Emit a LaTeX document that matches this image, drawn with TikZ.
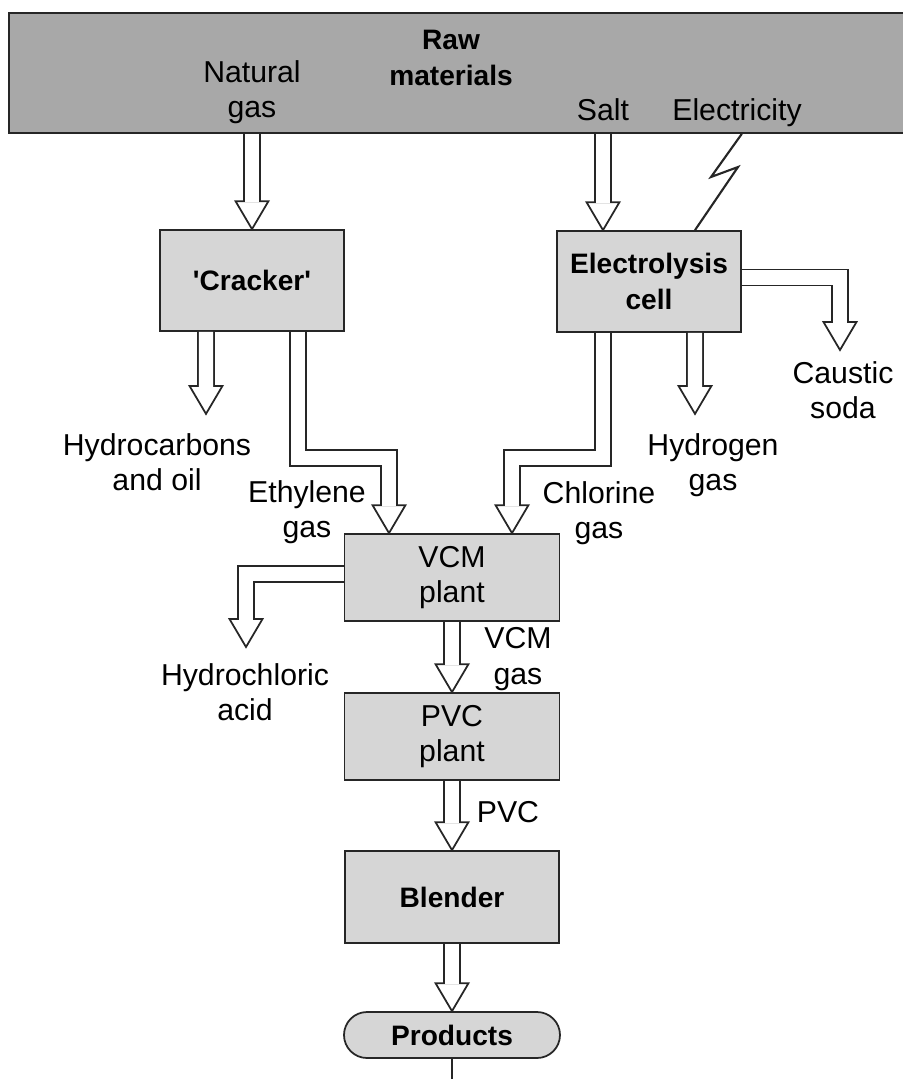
\documentclass[tikz,border=0pt]{standalone}
\usepackage{fontspec}
\setmainfont{Liberation Sans}
\usetikzlibrary{calc,positioning}
\definecolor{ink}{HTML}{262626}
\definecolor{rawgrey}{HTML}{A8A8A8}
\definecolor{boxgrey}{HTML}{D6D6D6}
\tikzset{
  unitbox/.style={draw=ink,fill=boxgrey,line width=0.5pt,
                  minimum width=1.84cm,minimum height=1.01cm,
                  align=center,inner sep=0pt,font=\fontsize{8}{10}\selectfont\bfseries},
  plantbox/.style={unitbox,minimum width=2.15cm,minimum height=0.87cm,
                   font=\fontsize{8.6}{10}\selectfont},
  lbl/.style={align=center,inner sep=0pt,font=\fontsize{8.6}{10}\selectfont},
  pipe/.style={draw=ink,line width=0.5pt,double=white,double distance=0.142cm},
  tiphead/.style={draw=ink,fill=white,line width=0.5pt,line join=miter},
  bolt/.style={draw=ink,line width=0.6pt}
}
% hollow arrow head pointing down, tip at #1
\newcommand{\tipat}[1]{\draw[tiphead] (#1) -- ++(0.165,0.28) -- ++(-0.33,0) -- cycle;}

\begin{document}
\begin{tikzpicture}[x=1cm,y=1cm]
  \useasboundingbox (0,0) rectangle (9.02,-10.79);
  % raw materials band
  \node[draw=ink,fill=rawgrey,line width=0.5pt,minimum width=9.1cm,minimum height=1.2cm,
        inner sep=0pt,anchor=north west] (raw) at (0.08,-0.12) {};
  \node[lbl,font=\fontsize{8}{10}\selectfont\bfseries] (rawlbl) at (4.51,-0.58) {Raw\\materials};
  \node[lbl] (natgas) at (2.52,-0.92) {Natural\\gas};
  \node[lbl,anchor=base] (salt) at (6.03,-1.20) {Salt};
  \node[lbl,anchor=base] (power) at (7.37,-1.20) {Electricity};
  % process units
  \node[unitbox] (cracker) at (2.52,-2.805) {\textquotesingle Cracker\textquotesingle};
  \node[unitbox] (elec) at (6.49,-2.815) {Electrolysis\\cell};
  \node[plantbox] (vcm) at (4.52,-5.775) {VCM\\plant};
  \node[plantbox] (pvc) at (4.52,-7.365) {PVC\\plant};
  \node[unitbox,minimum width=2.14cm,minimum height=0.92cm] (blender) at (4.52,-8.97) {Blender};
  \node[unitbox,minimum width=2.16cm,minimum height=0.46cm,rounded corners=0.23cm] (products) at (4.52,-10.35) {Products};
  % stream labels
  \node[lbl] (hcarb) at (1.57,-4.62) {Hydrocarbons\\and oil};
  \node[lbl] (ethgas) at (3.07,-5.12) {Ethylene\\gas};
  \node[lbl] (clgas) at (5.99,-5.13) {Chlorine\\gas};
  \node[lbl] (h2gas) at (7.13,-4.65) {Hydrogen\\gas};
  \node[lbl] (soda) at (8.43,-3.90) {Caustic\\soda};
  \node[lbl] (hcl) at (2.45,-6.92) {Hydrochloric\\acid};
  \node[lbl] (vcmgas) at (5.18,-6.59) {VCM\\gas};
  \node[lbl] (pvclbl) at (5.08,-8.12) {PVC};
  % free ends
  \coordinate (hctip) at ($(cracker.south)+(-0.46,-0.82)$);
  \coordinate (h2tip) at ($(elec.south)+(0.46,-0.81)$);
  \coordinate (ethtip) at ($(vcm.north)+(-0.63,0)$);
  \coordinate (cltip) at ($(vcm.north)+(0.60,0)$);
  \coordinate (sodatip) at (8.40,-3.50);
  \coordinate (hcltip) at (2.46,-6.47);
  \coordinate (exit) at ($(products.south)+(0,-0.6)$);
  % feeds
  \tipat{cracker.north}
  \draw[pipe] (natgas |- raw.south) -- ($(cracker.north)+(0,0.27)$);
  \tipat{salt |- elec.north}
  \draw[pipe] (salt |- raw.south) -- ($(salt |- elec.north)+(0,0.27)$);
  \draw[bolt] (elec.north east |- raw.south) -- (7.11,-1.77) -- (7.38,-1.67) -- ($(elec.north)+(0.46,0)$);
  % cracker streams
  \tipat{hctip}
  \draw[pipe] ([xshift=-4.6mm]cracker.south) -- ($(hctip)+(0,0.27)$);
  \tipat{ethtip}
  \draw[pipe] ([xshift=4.6mm]cracker.south) |- ($(ethtip)+(0,0.75)$) -- ($(ethtip)+(0,0.27)$);
  % electrolysis streams
  \tipat{cltip}
  \draw[pipe] ([xshift=-4.6mm]elec.south) |- ($(cltip)+(0,0.75)$) -- ($(cltip)+(0,0.27)$);
  \tipat{h2tip}
  \draw[pipe] ([xshift=4.6mm]elec.south) -- ($(h2tip)+(0,0.27)$);
  \tipat{sodatip}
  \draw[pipe] ([yshift=0.4mm]elec.east) -| ($(sodatip)+(0,0.27)$);
  % main line
  \tipat{hcltip}
  \draw[pipe] ([yshift=0.35mm]vcm.west) -| ($(hcltip)+(0,0.27)$);
  \tipat{pvc.north}
  \draw[pipe] (vcm.south) -- ($(pvc.north)+(0,0.27)$);
  \tipat{blender.north}
  \draw[pipe] (pvc.south) -- ($(blender.north)+(0,0.27)$);
  \tipat{products.north}
  \draw[pipe] (blender.south) -- ($(products.north)+(0,0.27)$);
  \draw[ink,line width=0.6pt] (products.south) -- (exit);
\end{tikzpicture}
\end{document}
